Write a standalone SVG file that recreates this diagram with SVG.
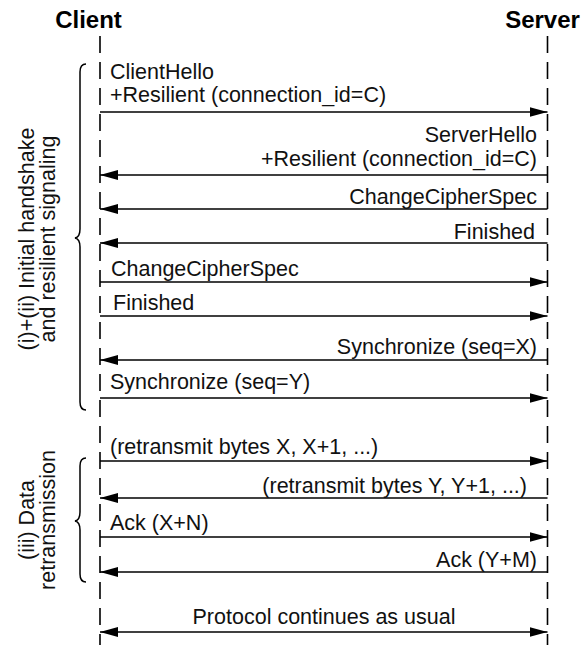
<svg xmlns="http://www.w3.org/2000/svg" width="586" height="645" viewBox="0 0 586 645">
<style>
.hdr{font-family:"Liberation Sans",Arial,Helvetica,sans-serif;font-size:24px;font-weight:bold;fill:#000}
.t{font-family:"Liberation Sans",Arial,Helvetica,sans-serif;font-size:21.5px;fill:#111}
.r{text-anchor:end}
.life{stroke:#000;stroke-width:1.6;stroke-dasharray:17 9;fill:none}
.msg{stroke:#000;stroke-width:1.6;fill:none}
.brace{stroke:#000;stroke-width:1.5;fill:none}
</style>
<defs>
<marker id="ah" viewBox="0 0 18 10" refX="18" refY="5" markerWidth="18" markerHeight="10" markerUnits="userSpaceOnUse" orient="auto-start-reverse">
<path d="M0,0 L18,5 L0,10 Z" fill="#000"/>
</marker>
</defs>
<rect width="586" height="645" fill="#fff"/>
<g id="client">
<text class="hdr" x="88.5" y="28" text-anchor="middle">Client</text>
<line class="life" x1="100" y1="36" x2="100" y2="645"/>
</g>
<g id="server">
<text class="hdr" x="542.5" y="28" text-anchor="middle">Server</text>
<line class="life" x1="547.5" y1="36" x2="547.5" y2="645"/>
</g>
<g id="phase1">
<path class="brace" d="M86,64 Q80,64 80,72 L80,229 Q80,237 75,238 Q80,239 80,247 L80,402 Q80,410 86,410"/>
<text class="t" transform="translate(34,239) rotate(-90)" text-anchor="middle">(i)+(ii) Initial handshake</text>
<text class="t" transform="translate(55,239) rotate(-90)" text-anchor="middle">and resilient signaling</text>
</g>
<g id="phase2">
<path class="brace" d="M86,458 Q80,458 80,466 L80,512 Q80,520 75,521 Q80,522 80,530 L80,574 Q80,582 86,582"/>
<text class="t" transform="translate(34,520) rotate(-90)" text-anchor="middle">(iii) Data</text>
<text class="t" transform="translate(55,520) rotate(-90)" text-anchor="middle">retransmission</text>
</g>
<g id="connectors">
<line class="msg" x1="100" y1="112" x2="547.5" y2="112" marker-end="url(#ah)"/>
<line class="msg" x1="547.5" y1="175" x2="100" y2="175" marker-end="url(#ah)"/>
<line class="msg" x1="547.5" y1="209" x2="100" y2="209" marker-end="url(#ah)"/>
<line class="msg" x1="547.5" y1="243" x2="100" y2="243" marker-end="url(#ah)"/>
<line class="msg" x1="100" y1="282" x2="547.5" y2="282" marker-end="url(#ah)"/>
<line class="msg" x1="100" y1="316" x2="547.5" y2="316" marker-end="url(#ah)"/>
<line class="msg" x1="547.5" y1="360" x2="100" y2="360" marker-end="url(#ah)"/>
<line class="msg" x1="100" y1="398" x2="547.5" y2="398" marker-end="url(#ah)"/>
<line class="msg" x1="100" y1="461" x2="547.5" y2="461" marker-end="url(#ah)"/>
<line class="msg" x1="547.5" y1="498" x2="100" y2="498" marker-end="url(#ah)"/>
<line class="msg" x1="100" y1="537" x2="547.5" y2="537" marker-end="url(#ah)"/>
<line class="msg" x1="547.5" y1="572" x2="100" y2="572" marker-end="url(#ah)"/>
<line class="msg" x1="100" y1="632" x2="547.5" y2="632" marker-start="url(#ah)" marker-end="url(#ah)"/>
</g>
<g id="labels">
<text class="t" x="110" y="79">ClientHello</text>
<text class="t" x="110" y="102">+Resilient (connection_id=C)</text>
<text class="t r" x="537" y="142">ServerHello</text>
<text class="t r" x="537" y="166">+Resilient (connection_id=C)</text>
<text class="t r" x="537" y="204">ChangeCipherSpec</text>
<text class="t r" x="535" y="239">Finished</text>
<text class="t" x="111" y="276">ChangeCipherSpec</text>
<text class="t" x="113" y="310">Finished</text>
<text class="t r" x="537" y="354">Synchronize (seq=X)</text>
<text class="t" x="110" y="389">Synchronize (seq=Y)</text>
<text class="t" x="110" y="454">(retransmit bytes X, X+1, ...)</text>
<text class="t r" x="527" y="493">(retransmit bytes Y, Y+1, ...)</text>
<text class="t" x="110" y="530">Ack (X+N)</text>
<text class="t r" x="537" y="567">Ack (Y+M)</text>
<text class="t" x="324" y="624" text-anchor="middle">Protocol continues as usual</text>
</g>
</svg>
